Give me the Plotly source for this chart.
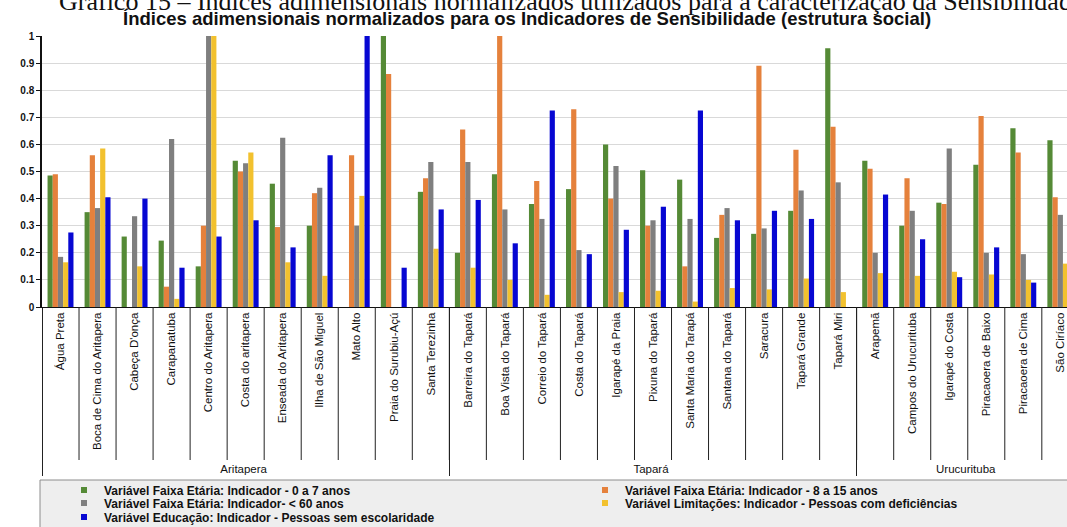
import plotly.graph_objects as go

regions = ["Aritapera"] * 11 + ["Tapará"] * 11 + ["Urucurituba"] * 6
communities = [
    "Água Preta", "Boca de Cima do Aritapera", "Cabeça D'onça", "Carapanatuba",
    "Centro do Aritapera", "Costa do aritapera", "Enseada do Aritapera",
    "Ilha de São Miguel", "Mato Alto", "Praia do Surubiu-Açú", "Santa Terezinha",
    "Barreira do Tapará", "Boa Vista do Tapará", "Correio do Tapará", "Costa do Tapará",
    "Igarapé da Praia", "Pixuna do Tapará", "Santa Maria do Tarapá", "Santana do Tapará",
    "Saracura", "Tapará Grande", "Tapará Miri",
    "Arapemã", "Campos do Urucurituba", "Igarapé do Costa", "Piracaoera de Baixo",
    "Piracaoera de Cima", "São Ciríaco",
]

idade_0_7 = [0.485, 0.35, 0.26, 0.245, 0.15, 0.54, 0.455, 0.30, 0.0, 1.0, 0.425,
             0.20, 0.49, 0.38, 0.435, 0.60, 0.505, 0.47, 0.255, 0.27, 0.355, 0.955,
             0.54, 0.30, 0.385, 0.525, 0.66, 0.615]
idade_8_15 = [0.49, 0.56, 0.0, 0.075, 0.30, 0.50, 0.295, 0.42, 0.56, 0.86, 0.475,
              0.655, 1.0, 0.465, 0.73, 0.40, 0.30, 0.15, 0.34, 0.89, 0.58, 0.665,
              0.51, 0.475, 0.38, 0.705, 0.57, 0.405]
idade_60 = [0.185, 0.365, 0.335, 0.62, 1.0, 0.53, 0.625, 0.44, 0.30, 0.0, 0.535,
            0.535, 0.36, 0.325, 0.21, 0.52, 0.32, 0.325, 0.365, 0.29, 0.43, 0.46,
            0.20, 0.355, 0.585, 0.20, 0.195, 0.34]
deficiencia = [0.165, 0.585, 0.15, 0.03, 1.0, 0.57, 0.165, 0.115, 0.41, 0.0, 0.215,
               0.145, 0.10, 0.045, 0.0, 0.055, 0.06, 0.02, 0.07, 0.065, 0.105, 0.055,
               0.125, 0.115, 0.13, 0.12, 0.10, 0.16]
escolaridade = [0.275, 0.405, 0.40, 0.145, 0.26, 0.32, 0.22, 0.56, 1.0, 0.145, 0.36,
                0.395, 0.235, 0.725, 0.195, 0.285, 0.37, 0.725, 0.32, 0.355, 0.325, 0.0,
                0.415, 0.25, 0.11, 0.22, 0.09, 0.53]

series_names = [
    "Variável Faixa Etária: Indicador - 0 a 7 anos",
    "Variável Faixa Etária: Indicador - 8 a 15 anos",
    "Variável Faixa Etária: Indicador- < 60 anos",
    "Variável Limitações: Indicador - Pessoas com deficiências",
    "Variável Educação: Indicador - Pessoas sem escolaridade",
]
series_values = [idade_0_7, idade_8_15, idade_60, deficiencia, escolaridade]
colors = ["#558a36", "#e5813c", "#7f7f7f", "#f2c12e", "#0707d2"]

# layout geometry (pixels)
W, H = 1067, 527
ML, MT, MB = 42, 36, 220
plot_h = H - MT - MB
xr = [-0.5, 27.18]


def py(pix):
    return (H - MB - pix) / plot_h


def px(pix):
    return (pix - ML) / (W - ML)


fig = go.Figure()
for name, vals, col in zip(series_names, series_values, colors):
    fig.add_trace(go.Bar(x=[regions, communities], y=vals, name=name,
                         marker=dict(color=col, line=dict(width=0)),
                         showlegend=False))

# legend entries (small square markers), one legend per entry to place them in two columns
legend_slots = [("legend", 64, 490), ("legend2", 585, 490), ("legend3", 64, 503),
                ("legend4", 585, 503), ("legend5", 64, 517)]
legend_layout = {}
for (lid, lx, ly), name, col in zip(legend_slots, series_names, colors):
    fig.add_trace(go.Scatter(x=[None], y=[None], mode="markers", name=name,
                             marker=dict(symbol="square", size=6, color=col),
                             xaxis="x2", yaxis="y2", legend=lid, showlegend=True))
    legend_layout[lid] = dict(x=px(lx), y=py(ly), xanchor="left", yanchor="middle",
                              bgcolor="rgba(0,0,0,0)", borderwidth=0,
                              font=dict(family="Liberation Sans Narrow, Arial Narrow, Liberation Sans, Arial",
                                        size=12, color="#111", weight="bold"))

shapes = []
# legend box
shapes.append(dict(type="rect", xref="paper", yref="paper", x0=px(40), x1=px(1080),
                   y0=py(480), y1=py(545), fillcolor="#eeeeee",
                   line=dict(color="#8c8c8c", width=1), layer="below"))
# vertical category separators
n = len(communities)
for i in range(1, n):
    xp = (i - 0.5 - xr[0]) / (xr[1] - xr[0])
    shapes.append(dict(type="line", xref="paper", yref="paper", x0=xp, x1=xp,
                       y0=0, y1=py(460), line=dict(color="#222", width=1)))

fig.update_layout(
    width=W, height=H,
    margin=dict(l=ML, r=0, t=MT, b=MB, autoexpand=False),
    paper_bgcolor="white", plot_bgcolor="white",
    barmode="group", bargap=0.3, bargroupgap=0,
    xaxis=dict(type="multicategory", range=xr, automargin=False, showline=True,
               linecolor="#111", linewidth=1, showgrid=False, ticks="",
               tickangle=-90,
               tickfont=dict(family="Liberation Sans Narrow, Arial Narrow, Liberation Sans, Arial",
                             size=11.5, color="#111"),
               showdividers=True, dividercolor="#222", dividerwidth=1),
    yaxis=dict(range=[0, 1], dtick=0.1, automargin=False, showline=True,
               linecolor="#111", linewidth=1.5, ticks="outside", ticklen=4,
               tickcolor="#111", showgrid=True, gridcolor="#d9d9d9", zeroline=False,
               tickfont=dict(family="Liberation Sans, Arial", size=10, color="#111",
                             weight="bold")),
    xaxis2=dict(visible=False, overlaying="x", range=[0, 1]),
    yaxis2=dict(visible=False, overlaying="y", range=[0, 1]),
    shapes=shapes,
    annotations=[
        dict(text="Gráfico 15 – Índices adimensionais normalizados utilizados para a caracterização da Sensibilidade",
             xref="paper", yref="paper", x=px(57), y=py(2), xanchor="left",
             yanchor="middle", showarrow=False,
             font=dict(family="Liberation Serif, Times New Roman", size=26, color="#111")),
        dict(text="Índices adimensionais normalizados para os Indicadores de Sensibilidade (estrutura social)",
             xref="paper", yref="paper", x=px(527), y=py(18), xanchor="center",
             yanchor="middle", showarrow=False,
             font=dict(family="Liberation Sans, Arial", size=18.5, color="#111", weight="bold")),
    ],
    **legend_layout,
)

fig.write_html("out.html", config={"displayModeBar": False},
               post_script="document.body.style.margin='0';")
